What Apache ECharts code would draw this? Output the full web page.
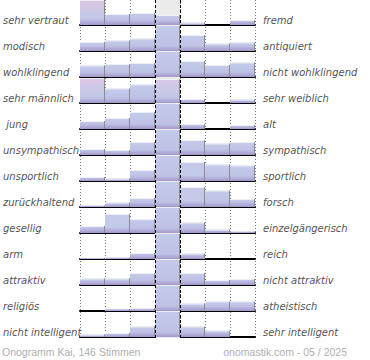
<!DOCTYPE html>
<html><head><meta charset="utf-8">
<script src="https://cdn.jsdelivr.net/npm/echarts@6/dist/echarts.min.js"></script>
<style>html,body{margin:0;padding:0;background:#fff}#c{width:370px;height:360px}</style>
</head><body><div id="c"></div>
<script>
// ---- data ----
const bins = ['1', '2', '3', '4', '5', '6', '7'];
const leftLabels = ['sehr vertraut', 'modisch', 'wohlklingend', 'sehr männlich', ' jung', 'unsympathisch', 'unsportlich', 'zurückhaltend', 'gesellig', 'arm', 'attraktiv', 'religiös', 'nicht intelligent'];
const rightLabels = ['fremd', 'antiquiert', 'nicht wohlklingend', 'sehr weiblich', 'alt', 'sympathisch', 'sportlich', 'forsch', 'einzelgängerisch', 'reich', 'nicht attraktiv', 'atheistisch', 'sehr intelligent'];
const vertraut = [25, 11, 12, 10, 2.5, 0, 5];
const modisch = [9, 10.5, 12.5, 40, 16, 7.5, 8.5];
const wohlklingend = [11.5, 13, 14, 40, 16, 12, 14.5];
const maennlich = [25, 14.5, 18.5, 24, 4, 0, 3.5];
const jung = [8, 11, 17, 40, 5, 0, 4];
const unsympathisch = [6, 5, 13, 40, 15, 11.5, 13];
const unsportlich = [4, 2.5, 11, 40, 19, 16.5, 15.5];
const zurueckhaltend = [1.5, 4.5, 9, 40, 20, 16.5, 8];
const gesellig = [7, 19, 14, 40, 10.5, 3.5, 1.5];
const arm = [1, 1.5, 6, 40, 5.5, 0, 0];
const attraktiv = [6.5, 6.5, 12, 40, 12, 5, 6];
const religioes = [0, 2, 3, 40, 7.5, 9.5, 9.5];
const intelligent = [2.5, 4, 10.5, 40, 10.5, 6.5, 0];
const rowMax = 25;
const footerLeft = 'Onogramm Kai, 146 Stimmen';
const footerRight = 'onomastik.com - 05 / 2025';

const rows = [vertraut, modisch, wohlklingend, maennlich, jung, unsympathisch, unsportlich, zurueckhaltend, gesellig, arm, attraktiv, religioes, intelligent];

// ---- layout / style ----
const PL = 80, PW = 175, ROWH = 26, BARH = 25;
const FONT = 'DejaVu Sans';
const BLUE = [195, 201, 233], PINK = [220, 198, 228], BLUE2 = [190, 194, 230], PURP = [164, 151, 203];
function rgb(c) { return 'rgb(' + c.map(Math.round).join(',') + ')'; }
function mix(a, b, t) { return a.map((v, k) => v + (b[k] - v) * t); }

function renderBar(params, api) {
  const i = api.value(0), v = api.value(1);
  if (!v) return;
  const base = api.coord([i, 0]);
  const topU = api.coord([i, v]);
  const w = api.size([1, 0])[0];
  const cs = params.coordSys;
  const x0 = base[0] - w / 2, x1 = base[0] + w / 2;
  const yBot = base[1];
  const yTop = Math.max(topU[1], cs.y);
  const hVis = yBot - yTop;
  const r = (yBot - topU[1]) / cs.height;
  const clipped = topU[1] < cs.y - 0.5;
  let pk = 0;
  if (r <= 1.15) pk = Math.max(0, Math.min(1, (r - 0.75) / 0.25));
  const topC = mix(BLUE, PINK, pk);
  const bandStart = Math.max(0.3, 1 - 5 / Math.max(hVis, 1));
  const grad = new echarts.graphic.LinearGradient(0, yTop, 0, yBot, [
    { offset: 0, color: rgb(topC) },
    { offset: pk > 0 ? 0.7 : 0.15, color: rgb(BLUE) },
    { offset: bandStart, color: rgb(BLUE2) },
    { offset: 1, color: rgb(PURP) }
  ], true);
  const children = [
    { type: 'rect', shape: { x: x0, y: yTop, width: w, height: hVis }, style: { fill: grad } },
    { type: 'line', shape: { x1: x1 - 0.5, y1: yTop, x2: x1 - 0.5, y2: yBot }, style: { stroke: '#8c8c8c', lineWidth: 1 } }
  ];
  if (!clipped && hVis > 2) {
    children.push({ type: 'line', shape: { x1: x0, y1: yTop + 0.5, x2: x1 - 1, y2: yTop + 0.5 }, style: { stroke: '#eef0f8', lineWidth: 1 } });
  }
  return { type: 'group', children };
}

const grid = [], xAxis = [], yAxis = [], series = [];
rows.forEach((vals, r) => {
  grid.push({ left: PL, width: PW, top: ROWH * r, height: BARH });
  xAxis.push({
    type: 'category', data: bins, gridIndex: r, boundaryGap: true,
    axisLine: { show: true, lineStyle: { color: '#000', width: 2 } },
    axisTick: { show: false }, axisLabel: { show: false }, splitLine: { show: false }
  });
  yAxis.push({ type: 'value', gridIndex: r, min: 0, max: rowMax, show: false });
  series.push({
    type: 'custom', xAxisIndex: r, yAxisIndex: r, z: 3,
    renderItem: renderBar, data: vals.map((v, i) => [i, v]), silent: true
  });
});

// background grid with column lines
const bg = rows.length;
grid.push({ left: PL, width: PW, top: 0, height: ROWH * rows.length });
xAxis.push({
  type: 'value', gridIndex: bg, min: 0, max: bins.length, interval: 1,
  axisLine: { show: false }, axisTick: { show: false }, axisLabel: { show: false },
  splitLine: { show: true, showMinLine: true, showMaxLine: true, lineStyle: { color: '#777', type: [1, 2], width: 1 } }
});
yAxis.push({ type: 'value', gridIndex: bg, min: 0, max: 1, show: false });
series.push({
  type: 'line', xAxisIndex: bg, yAxisIndex: bg, data: [], z: 1, silent: true,
  markArea: { silent: true, itemStyle: { color: '#ececec' }, data: [[{ xAxis: 3 }, { xAxis: 4 }]] }
});
series.push({
  type: 'line', xAxisIndex: bg, yAxisIndex: bg, data: [], z: 10, silent: true,
  markLine: {
    silent: true, symbol: 'none', label: { show: false },
    lineStyle: { color: '#000', type: [3, 2], width: 1 },
    data: [{ xAxis: 3 }, { xAxis: 4 }]
  }
});

// label grid
const lg = rows.length + 1;
grid.push({ left: PL, width: PW, top: 7, height: ROWH * rows.length });
xAxis.push({ type: 'value', gridIndex: lg, show: false });
const labelStyle = { fontFamily: FONT, fontSize: 10, fontStyle: 'italic', color: '#555' };
yAxis.push({
  type: 'category', gridIndex: lg, data: leftLabels, inverse: true, position: 'left',
  axisLine: { show: false }, axisTick: { show: false }, splitLine: { show: false },
  axisLabel: Object.assign({ margin: PL, align: 'left', interval: 0 }, labelStyle)
});
yAxis.push({
  type: 'category', gridIndex: lg, data: rightLabels, inverse: true, position: 'right',
  axisLine: { show: false }, axisTick: { show: false }, splitLine: { show: false },
  axisLabel: Object.assign({ margin: 8, align: 'left', interval: 0 }, labelStyle)
});

const footFont = { fontFamily: 'Arial, "Liberation Sans", sans-serif', fontSize: 10.5, fill: '#b0b0b0', verticalAlign: 'middle' };
const chart = echarts.init(document.getElementById('c'), null, { renderer: 'svg' });
chart.setOption({
  animation: false,
  graphic: [
    { type: 'text', left: 2, top: 346, silent: true, style: Object.assign({ text: footerLeft }, footFont) },
    { type: 'text', right: 23, top: 346, silent: true, style: Object.assign({ text: footerRight }, footFont) }
  ],
  grid, xAxis, yAxis, series
});
</script></body></html>
